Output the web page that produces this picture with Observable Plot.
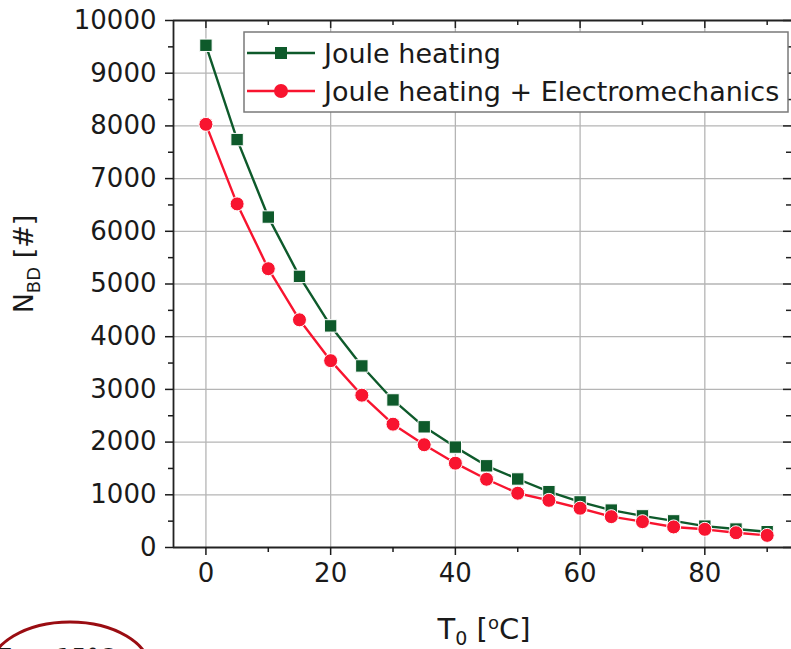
<!DOCTYPE html>
<html>
<head>
<meta charset="utf-8">
<script src="https://cdn.jsdelivr.net/npm/d3@7"></script>
<script src="https://cdn.jsdelivr.net/npm/@observablehq/plot@0.6"></script>
<style>
  html, body { margin: 0; padding: 0; background: white; }
  #chart { width: 791px; height: 649px; overflow: hidden; }
</style>
</head>
<body>
<div id="chart"></div>
<script>
// ---- data ----
const temperatures = [0, 5, 10, 15, 20, 25, 30, 35, 40, 45, 50, 55, 60, 65, 70, 75, 80, 85, 90];
const jouleHeating = [9530, 7740, 6270, 5145, 4205, 3445, 2800, 2290, 1905, 1550, 1300, 1060, 865, 710, 600, 505, 405, 350, 300];
const jouleElectromechanics = [8030, 6520, 5290, 4320, 3545, 2890, 2340, 1950, 1600, 1295, 1030, 895, 745, 585, 490, 390, 345, 280, 230];
const seriesNames = ["Joule heating", "Joule heating + Electromechanics"];
const xMajorTicks = [0, 20, 40, 60, 80];
const xMinorTicks = [10, 30, 50, 70, 90];
const yMajorTicks = [0, 1000, 2000, 3000, 4000, 5000, 6000, 7000, 8000, 9000, 10000];
const yMinorTicks = [500, 1500, 2500, 3500, 4500, 5500, 6500, 7500, 8500, 9500];

const green = "#0e5a2b";
const red = "#f8142f";

const jh = temperatures.map((t, i) => ({t, v: jouleHeating[i]}));
const je = temperatures.map((t, i) => ({t, v: jouleElectromechanics[i]}));

const W = 791, H = 649;
const mL = 173, mR = 0, mT = 20, mB = 102;
const innerW = W - mL - mR, innerH = H - mT - mB;
const xDomain = [-5.2, 93.9];

const chart = Plot.plot({
  width: W, height: H,
  marginLeft: mL, marginRight: mR, marginTop: mT, marginBottom: mB,
  x: {domain: xDomain},
  y: {domain: [0, 10000]},
  style: {fontFamily: "DejaVu Sans, Verdana, sans-serif", fontSize: "26px", color: "#1a1a1a", background: "white"},
  marks: [
    // grid
    Plot.ruleX(xMajorTicks, {stroke: "#b5b5b5", strokeWidth: 1.3}),
    Plot.ruleY(yMajorTicks.filter(d => d > 0 && d < 10000), {stroke: "#b5b5b5", strokeWidth: 1.3}),
    // frame
    Plot.ruleX([xDomain[0]], {stroke: "#222", strokeWidth: 1.8}),
    Plot.ruleY([0], {stroke: "#222", strokeWidth: 1.8}),
    Plot.ruleY([10000], {stroke: "#222", strokeWidth: 1.8}),
    // mirrored inward ticks on top and right
    Plot.tickX(xMajorTicks, {x: d => d, insetBottom: innerH - 8, stroke: "#222", strokeWidth: 1.5}),
    Plot.tickX(xMinorTicks, {x: d => d, insetBottom: innerH - 5, stroke: "#222", strokeWidth: 1.5}),
    Plot.tickY(yMajorTicks, {y: d => d, insetLeft: innerW - 8, stroke: "#222", strokeWidth: 1.5}),
    Plot.tickY(yMinorTicks, {y: d => d, insetLeft: innerW - 5, stroke: "#222", strokeWidth: 1.5}),
    // axes
    Plot.axisX(xMajorTicks, {tickSize: 8, tickPadding: 8, fontSize: 26, strokeWidth: 1.5, label: null}),
    Plot.axisX(xMinorTicks, {tickSize: 5, text: null, strokeWidth: 1.5, label: null}),
    Plot.axisY(yMajorTicks, {tickSize: 8, tickPadding: 9, fontSize: 26, strokeWidth: 1.5, label: null, tickFormat: d => String(d)}),
    Plot.axisY(yMinorTicks, {tickSize: 5, text: null, strokeWidth: 1.5, label: null}),
    // series
    Plot.line(jh, {x: "t", y: "v", stroke: green, strokeWidth: 2.4}),
    Plot.line(je, {x: "t", y: "v", stroke: red, strokeWidth: 2.4}),
    Plot.dot(jh, {x: "t", y: "v", symbol: "square", r: 7, fill: green, stroke: "white", strokeWidth: 1}),
    Plot.dot(je, {x: "t", y: "v", symbol: "circle", r: 7, fill: red, stroke: "white", strokeWidth: 1})
  ]
});

document.getElementById("chart").appendChild(chart);

// ---- annotations: axis titles, legend ----
const svg = d3.select(chart);
const font = "DejaVu Sans, Verdana, sans-serif";

// y title
const yt = svg.append("text")
  .attr("transform", `translate(33, 264) rotate(-90)`)
  .attr("text-anchor", "middle")
  .attr("font-family", font).attr("font-size", 27).attr("fill", "#1a1a1a");
yt.append("tspan").text("N");
yt.append("tspan").attr("font-size", 18).attr("dy", 7).text("BD");
yt.append("tspan").attr("dy", -7).text(" [#]");

// x title
const xt = svg.append("text")
  .attr("x", 484).attr("y", 639)
  .attr("text-anchor", "middle")
  .attr("font-family", font).attr("font-size", 29).attr("fill", "#1a1a1a");
xt.append("tspan").text("T");
xt.append("tspan").attr("font-size", 19).attr("dy", 6).text("0");
xt.append("tspan").attr("dy", -6).text(" [");
xt.append("tspan").attr("font-size", 18).attr("dy", -10).text("o");
xt.append("tspan").attr("dy", 10).text("C]");

// legend
const lg = svg.append("g");
lg.append("rect").attr("x", 244).attr("y", 32).attr("width", 544).attr("height", 80)
  .attr("fill", "white").attr("stroke", "#7a7a7a").attr("stroke-width", 1.5);
const items = [{name: seriesNames[0], color: green, sym: "square", y: 53},
               {name: seriesNames[1], color: red, sym: "circle", y: 91}];
items.forEach(it => {
  lg.append("line").attr("x1", 247).attr("x2", 315).attr("y1", it.y).attr("y2", it.y)
    .attr("stroke", it.color).attr("stroke-width", 2.4);
  if (it.sym === "square") {
    lg.append("rect").attr("x", 275).attr("y", it.y - 6).attr("width", 12).attr("height", 12)
      .attr("fill", it.color);
  } else {
    lg.append("circle").attr("cx", 281).attr("cy", it.y).attr("r", 7).attr("fill", it.color);
  }
  lg.append("text").attr("x", 324).attr("y", it.y + 10)
    .attr("text-anchor", "start")
    .attr("font-family", font).attr("font-size", 27).attr("fill", "#1a1a1a").text(it.name);
});

// cropped annotation at bottom-left
svg.append("ellipse").attr("cx", 70).attr("cy", 670).attr("rx", 80).attr("ry", 48)
  .attr("fill", "none").attr("stroke", "#9a0d12").attr("stroke-width", 3);
const an = svg.append("text").attr("x", -4).attr("y", 666)
  .attr("text-anchor", "start")
  .attr("font-family", font).attr("font-size", 24).attr("fill", "#1a1a1a");
an.append("tspan").text("T");
an.append("tspan").attr("font-size", 16).attr("dy", 6).text("0");
an.append("tspan").attr("dy", -6).text(" = 15°C");
</script>
</body>
</html>
